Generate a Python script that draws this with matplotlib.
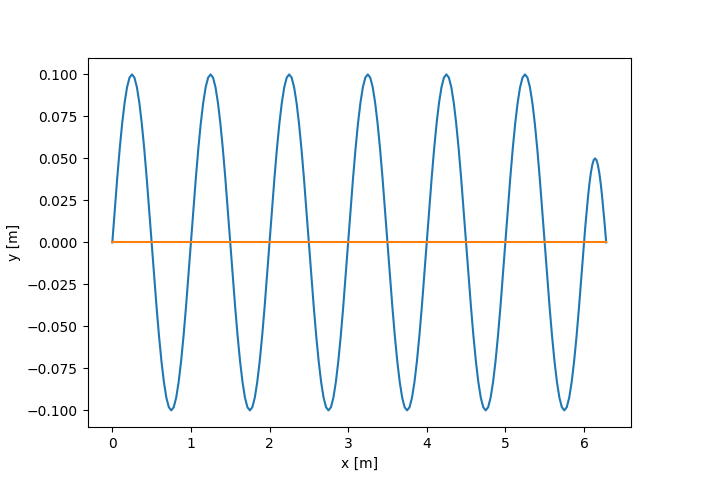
import numpy as np
from matplotlib import pyplot as plt

# wave samples, every 1/32 m from 0 to 6 m
wave_y = [
    0.0, 0.0195, 0.0383, 0.0556, 0.0707, 0.0831, 0.0924, 0.0981, 0.1, 0.0981, 0.0924, 0.0831, 0.0707, 0.0556, 0.0383, 0.0195,
    0.0, -0.0195, -0.0383, -0.0556, -0.0707, -0.0831, -0.0924, -0.0981, -0.1, -0.0981, -0.0924, -0.0831, -0.0707, -0.0556, -0.0383, -0.0195,
    0.0, 0.0195, 0.0383, 0.0556, 0.0707, 0.0831, 0.0924, 0.0981, 0.1, 0.0981, 0.0924, 0.0831, 0.0707, 0.0556, 0.0383, 0.0195,
    0.0, -0.0195, -0.0383, -0.0556, -0.0707, -0.0831, -0.0924, -0.0981, -0.1, -0.0981, -0.0924, -0.0831, -0.0707, -0.0556, -0.0383, -0.0195,
    0.0, 0.0195, 0.0383, 0.0556, 0.0707, 0.0831, 0.0924, 0.0981, 0.1, 0.0981, 0.0924, 0.0831, 0.0707, 0.0556, 0.0383, 0.0195,
    0.0, -0.0195, -0.0383, -0.0556, -0.0707, -0.0831, -0.0924, -0.0981, -0.1, -0.0981, -0.0924, -0.0831, -0.0707, -0.0556, -0.0383, -0.0195,
    0.0, 0.0195, 0.0383, 0.0556, 0.0707, 0.0831, 0.0924, 0.0981, 0.1, 0.0981, 0.0924, 0.0831, 0.0707, 0.0556, 0.0383, 0.0195,
    0.0, -0.0195, -0.0383, -0.0556, -0.0707, -0.0831, -0.0924, -0.0981, -0.1, -0.0981, -0.0924, -0.0831, -0.0707, -0.0556, -0.0383, -0.0195,
    0.0, 0.0195, 0.0383, 0.0556, 0.0707, 0.0831, 0.0924, 0.0981, 0.1, 0.0981, 0.0924, 0.0831, 0.0707, 0.0556, 0.0383, 0.0195,
    0.0, -0.0195, -0.0383, -0.0556, -0.0707, -0.0831, -0.0924, -0.0981, -0.1, -0.0981, -0.0924, -0.0831, -0.0707, -0.0556, -0.0383, -0.0195,
    0.0, 0.0195, 0.0383, 0.0556, 0.0707, 0.0831, 0.0924, 0.0981, 0.1, 0.0981, 0.0924, 0.0831, 0.0707, 0.0556, 0.0383, 0.0195,
    0.0, -0.0195, -0.0383, -0.0556, -0.0707, -0.0831, -0.0924, -0.0981, -0.1, -0.0981, -0.0924, -0.0831, -0.0707, -0.0556, -0.0383, -0.0195,
    0.0,
]
wave_x = list(np.linspace(0, 6, len(wave_y)))

# last short bump near the end of the string (6.0 .. 6.283 m)
tail_y = [0.0098, 0.0191, 0.0278, 0.0354, 0.0416, 0.0462, 0.0490, 0.05,
          0.0490, 0.0462, 0.0416, 0.0354, 0.0278, 0.0191, 0.0098, 0.0]
tail_x = list(np.linspace(6, 6.283, len(tail_y) + 1)[1:])

# rest position
rest_x = [0.0, 6.283]
rest_y = [0.0, 0.0]

fig, ax = plt.subplots(figsize=(7.01, 4.8), dpi=100)
ax.plot(wave_x + tail_x, wave_y + tail_y)
ax.plot(rest_x, rest_y)
ax.set_xlabel('x [m]')
ax.set_ylabel('y [m]')

fig.savefig('out.png')
